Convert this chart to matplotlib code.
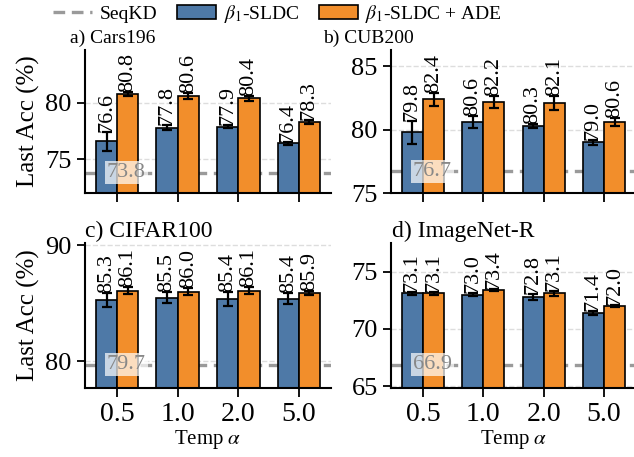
import numpy as np
import matplotlib
matplotlib.use('Agg')
import matplotlib.pyplot as plt
from matplotlib.lines import Line2D
from matplotlib.patches import Patch

plt.rcParams['font.family'] = ['Liberation Serif', 'DejaVu Serif']
plt.rcParams['mathtext.fontset'] = 'stix'

temps = ['0.5', '1.0', '2.0', '5.0']
titles = ['a) Cars196', 'b) CUB200', 'c) CIFAR100', 'd) ImageNet-R']

sldc_mean = [[76.6, 77.8, 77.9, 76.4],
             [79.8, 80.6, 80.3, 79.0],
             [85.3, 85.5, 85.4, 85.4],
             [73.1, 73.0, 72.8, 71.4]]
sldc_err = [[0.85, 0.2, 0.1, 0.1],
            [0.9, 0.5, 0.15, 0.2],
            [0.6, 0.5, 0.6, 0.5],
            [0.15, 0.15, 0.25, 0.2]]
ade_mean = [[80.8, 80.6, 80.4, 78.3],
            [82.4, 82.2, 82.1, 80.6],
            [86.1, 86.0, 86.1, 85.9],
            [73.1, 73.4, 73.1, 72.0]]
ade_err = [[0.2, 0.25, 0.2, 0.15],
           [0.5, 0.5, 0.55, 0.3],
           [0.3, 0.3, 0.3, 0.2],
           [0.15, 0.1, 0.2, 0.05]]
seqkd = [73.8, 76.7, 79.7, 66.9]

ylims = [(72.0, 84.7), (75.0, 86.3), (77.7, 90.2), (64.85, 77.5)]
yticks = [[75, 80], [75, 80, 85], [80, 90], [65, 70, 75]]

blue = '#4e79a7'
orange = '#f28e2b'
grey = '#9a9a9a'

fig = plt.figure(figsize=(6.34, 4.57), dpi=100)
W, H = 634, 457
boxes = [(85, 331, 50, 193), (391, 636, 50, 193),
         (85, 331, 243, 388), (391, 636, 243, 388)]
title_pos = [(70, 38, 14), (323, 38, 14), (85, 231, 17), (392, 231, 17)]

x = np.arange(len(temps))
w = 0.35

for i in range(4):
    l, r, t, b = boxes[i]
    ax = fig.add_axes([l / W, 1 - b / H, (r - l) / W, (b - t) / H])
    ax.set_axisbelow(True)
    ax.yaxis.grid(True, color='#dddddd', linestyle='--', linewidth=1.0)
    ax.axhline(seqkd[i], color=grey, linestyle=(0, (3.5, 2)), linewidth=2.4, zorder=1)
    ax.bar(x - w / 2, sldc_mean[i], w, yerr=sldc_err[i], color=blue,
           edgecolor='black', linewidth=1.2, zorder=2,
           error_kw=dict(ecolor='black', elinewidth=1.6, capsize=3.8, capthick=1.6))
    ax.bar(x + w / 2, ade_mean[i], w, yerr=ade_err[i], color=orange,
           edgecolor='black', linewidth=1.2, zorder=2,
           error_kw=dict(ecolor='black', elinewidth=1.6, capsize=3.8, capthick=1.6))
    for j in range(len(temps)):
        ax.text(x[j] - w / 2, sldc_mean[i][j] + sldc_err[i][j], '%.1f' % sldc_mean[i][j],
                rotation=90, ha='center', va='bottom', fontsize=16, zorder=4)
        ax.text(x[j] + w / 2, ade_mean[i][j] + ade_err[i][j], '%.1f' % ade_mean[i][j],
                rotation=90, ha='center', va='bottom', fontsize=16, zorder=4)
    ax.text(0.15, seqkd[i], '%.1f' % seqkd[i], ha='center', va='center', fontsize=16,
            color='#888888', zorder=5,
            bbox=dict(facecolor='white', edgecolor='none', alpha=0.7, pad=1.5))
    ax.set_xlim(-0.53, 3.53)
    ax.set_ylim(*ylims[i])
    ax.set_yticks(yticks[i])
    ax.set_xticks(x)
    if i < 2:
        ax.set_xticklabels([])
    else:
        ax.set_xticklabels(temps, fontsize=20)
        ax.set_xlabel(r'Temp $\alpha$', fontsize=15, labelpad=1)
    if i % 2 == 0:
        ax.set_ylabel('Last Acc (%)', fontsize=18, labelpad=4)
    ax.tick_params(axis='y', labelsize=19, length=6, width=1.3)
    ax.tick_params(axis='x', length=6.5, width=1.3)
    for s in ['top', 'right']:
        ax.spines[s].set_visible(False)
    for s in ['left', 'bottom']:
        ax.spines[s].set_linewidth(1.5)
    tx, ty, fs = title_pos[i]
    fig.text(tx / W, 1 - ty / H, titles[i], fontsize=fs, ha='left', va='center')

handles = [Line2D([0], [0], color=grey, linestyle=(0, (3.5, 2)), linewidth=2.4),
           Patch(facecolor=blue, edgecolor='black', linewidth=1.2),
           Patch(facecolor=orange, edgecolor='black', linewidth=1.2)]
labels = ['SeqKD', r'$\beta_1$-SLDC', r'$\beta_1$-SLDC + ADE']
fig.legend(handles, labels, loc='center', bbox_to_anchor=(0.438, 1 - 14 / H), ncol=3,
           frameon=False, fontsize=14, handlelength=2.0, handletextpad=0.4,
           columnspacing=1.0, borderpad=0.1)

fig.savefig('out.png', dpi=100)
